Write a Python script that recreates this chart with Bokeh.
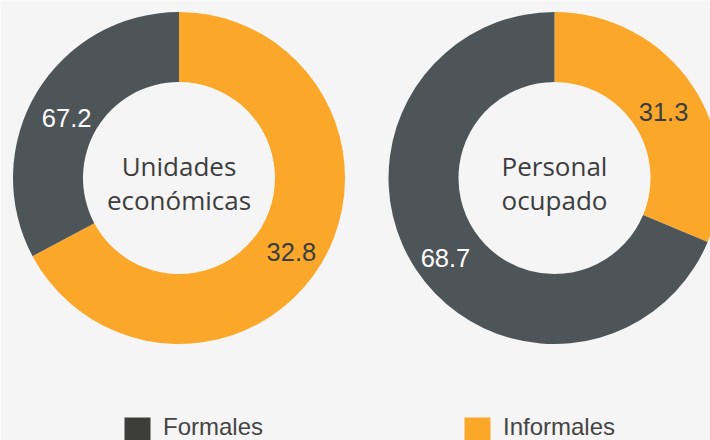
import numpy as np
from bokeh.plotting import figure
from bokeh.models import Range1d, ColumnDataSource
from bokeh.core.properties import value
from bokeh.embed import file_html
from bokeh.resources import INLINE

# ---- data (as drawn in the reference) ----
categories = [["Unidades", "económicas"], ["Personal", "ocupado"]]
informales = [67.2, 31.3]          # orange slice share (drawn first, clockwise from 12 o'clock)
formales = [32.8, 68.7]            # dark slice share
informales_labels = ["32.8", "31.3"]
formales_labels = ["67.2", "68.7"]
legend_labels = ["Formales", "Informales"]

# ---- style / layout ----
W, H = 710, 440
BG = "#f5f5f5"
ORANGE = "#fba82a"
DARK = "#4e5558"
LEG_DARK = "#3d3d3b"
R_OUT, R_IN = 166, 96
centers_x = [178.5, 554]
center_y = H - 177.5

p = figure(width=W, height=H, x_range=Range1d(0, W), y_range=Range1d(0, H),
           output_backend="svg", toolbar_location=None, min_border=0)
p.background_fill_color = BG
p.border_fill_color = BG
p.outline_line_color = None
p.axis.visible = False
p.grid.visible = False

start = np.pi / 2
for i, cx in enumerate(centers_x):
    tot = informales[i] + formales[i]
    a_inf = 2 * np.pi * informales[i] / tot
    src = ColumnDataSource(dict(
        x=[cx, cx], y=[center_y, center_y],
        s=[start, start - a_inf], e=[start - a_inf, start - 2 * np.pi],
        c=[ORANGE, DARK]))
    p.annular_wedge(x="x", y="y", inner_radius=R_IN, outer_radius=R_OUT,
                    start_angle="s", end_angle="e", direction="clock",
                    fill_color="c", line_color=None, source=src)
    # value labels at slice midpoints
    mids = [start - a_inf / 2, start - a_inf - (2 * np.pi - a_inf) / 2]
    rm = (R_IN + R_OUT) / 2
    lx = [cx + rm * np.cos(m) for m in mids]
    ly = [center_y + rm * np.sin(m) for m in mids]
    p.text(x=lx, y=ly, text=[informales_labels[i], formales_labels[i]],
           text_color=["#3a3e40", "#ffffff"], text_align="center",
           text_baseline="middle", y_offset=7,
           text_font=value("Liberation Sans"), text_font_size="25.5px")
    # center label, two lines
    p.text(x=[cx, cx], y=[center_y, center_y], text=categories[i],
           text_color="#3d3d3d", text_align="center", text_baseline="middle",
           y_offset=[-12, 22],
           text_font=value("Open Sans"), text_font_size="26px")

# ---- legend ----
leg_x = [137, 477]
p.rect(x=leg_x, y=[H - 430] * 2, width=26, height=26,
       fill_color=[LEG_DARK, ORANGE], line_color=None)
p.text(x=[x + 25.5 for x in leg_x], y=[H - 430] * 2, text=legend_labels,
       text_color="#444444", text_align="left", text_baseline="middle",
       y_offset=-4,
       text_font=value("Liberation Sans"), text_font_size="24px")

open("out.html", "w").write(file_html(p, INLINE))
